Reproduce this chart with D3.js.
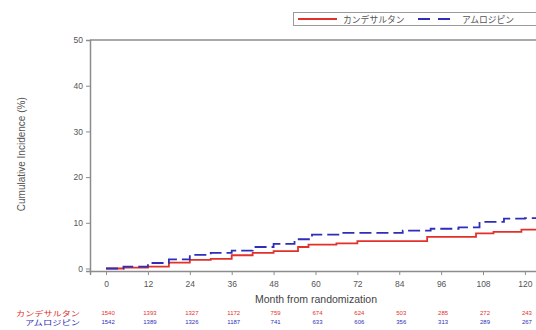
<!DOCTYPE html>
<html>
<head>
<meta charset="utf-8">
<script src="https://cdn.jsdelivr.net/npm/d3@7"></script>
<style>
  html, body { margin: 0; padding: 0; background: #fff; }
  svg { display: block; }
  text { font-family: "Liberation Sans", Arial, "Noto Sans CJK JP", sans-serif; }
  .jp { font-family: "Noto Sans CJK JP", sans-serif; }
</style>
</head>
<body>
<svg id="chart" width="536" height="330"></svg>
<script>
// Series names
const seriesNames = ["カンデサルタン", "アムロジピン"];

// Kaplan-Meier style step curves: event times (months) and cumulative incidence (%)
const candesartanMonths = [0, 5, 12, 18, 24, 30, 36, 42, 48, 55, 58, 66, 72, 92, 106, 111, 119, 124];
const candesartanValues = [0, 0.2, 0.4, 1.3, 1.9, 2.1, 2.9, 3.4, 3.8, 4.7, 5.2, 5.5, 6.0, 6.9, 7.7, 8.0, 8.5, 8.5];
const amlodipineMonths  = [0, 5, 12, 18, 24, 30, 36, 42, 48, 54, 59, 67, 85, 93, 101, 107, 114, 120, 124];
const amlodipineValues  = [0, 0.4, 1.2, 2.0, 3.0, 3.4, 3.9, 4.7, 5.4, 6.4, 7.4, 7.8, 8.3, 8.7, 9.0, 10.2, 10.9, 11.0, 11.0];

// Axis ticks
const xTicks = [0, 12, 24, 36, 48, 60, 72, 84, 96, 108, 120];
const yTicks = [0, 10, 20, 30, 40, 50];

// Numbers at risk at each x tick
const riskCandesartan = [1540, 1393, 1327, 1172, 759, 674, 624, 503, 285, 272, 243];
const riskAmlodipine  = [1542, 1389, 1326, 1187, 741, 633, 606, 356, 313, 289, 267];

const red = "#e2312b";
const blue = "#2e2eb8";
const axisGray = "#8c8c8c";
const textGray = "#555";

const svg = d3.select("#chart");

const x = d3.scaleLinear().domain([-4.6, 124.9]).range([90, 542]);
const y = d3.scaleLinear().domain([-0.55, 50]).range([271, 40]);

// Plot frame (top and left edges visible)
svg.append("line")
  .attr("x1", x.range()[0]).attr("x2", x.range()[1])
  .attr("y1", y(50)).attr("y2", y(50))
  .attr("stroke", axisGray).attr("stroke-width", 1.5);

// Y axis
const yAxis = svg.append("g")
  .attr("transform", `translate(${x.range()[0]},0)`)
  .call(d3.axisLeft(y).tickValues(yTicks).tickSize(4).tickPadding(3));
yAxis.select(".domain").attr("stroke", axisGray).attr("stroke-width", 1.5);
yAxis.selectAll(".tick line").attr("stroke", axisGray);
yAxis.selectAll(".tick text").attr("fill", textGray).attr("font-size", 8.5);

// X axis
const xAxis = svg.append("g")
  .attr("transform", `translate(0,${y.range()[0]})`)
  .call(d3.axisBottom(x).tickValues(xTicks).tickSize(4).tickPadding(6));
xAxis.select(".domain").attr("stroke", axisGray).attr("stroke-width", 1.5);
xAxis.selectAll(".tick line").attr("stroke", axisGray);
xAxis.selectAll(".tick text").attr("fill", textGray).attr("font-size", 8.5);

// Axis titles
svg.append("text")
  .attr("transform", `translate(25,${(y(50) + y(0)) / 2}) rotate(-90)`)
  .attr("text-anchor", "middle")
  .attr("fill", textGray).attr("font-size", 10)
  .text("Cumulative Incidence (%)");

svg.append("text")
  .attr("x", 316).attr("y", 303)
  .attr("text-anchor", "middle")
  .attr("fill", "#444").attr("font-size", 10.5)
  .text("Month from randomization");

// Step curves
const line = d3.line()
  .x(d => x(d[0]))
  .y(d => y(d[1]))
  .curve(d3.curveStepAfter);

const series = [
  { months: candesartanMonths, values: candesartanValues, color: red, dash: null },
  { months: amlodipineMonths, values: amlodipineValues, color: blue, dash: "12,5" }
];

series.forEach(s => {
  const pts = s.months.map((m, i) => [m, s.values[i]]);
  svg.append("path")
    .datum(pts)
    .attr("d", line)
    .attr("fill", "none")
    .attr("stroke", s.color)
    .attr("stroke-width", 1.8)
    .attr("stroke-dasharray", s.dash);
});

// Legend
const legend = svg.append("g");
legend.append("rect")
  .attr("x", 293.5).attr("y", 12.5).attr("width", 260).attr("height", 13)
  .attr("fill", "#fff").attr("stroke", "#9a9a9a").attr("stroke-width", 1);
legend.append("line")
  .attr("x1", 298).attr("x2", 337).attr("y1", 19).attr("y2", 19)
  .attr("stroke", red).attr("stroke-width", 1.8);
legend.append("text").attr("class", "jp")
  .attr("x", 343).attr("y", 22.5).attr("font-size", 8.8).attr("fill", textGray)
  .text(seriesNames[0]);
legend.append("line")
  .attr("x1", 418).attr("x2", 457).attr("y1", 19).attr("y2", 19)
  .attr("stroke", blue).attr("stroke-width", 1.8).attr("stroke-dasharray", "12,8");
legend.append("text").attr("class", "jp")
  .attr("x", 462).attr("y", 22.5).attr("font-size", 8.8).attr("fill", textGray)
  .text(seriesNames[1]);

// Numbers at risk table
const riskRows = [
  { name: seriesNames[0], counts: riskCandesartan, color: red, yPos: 316, width: 64 },
  { name: seriesNames[1], counts: riskAmlodipine, color: blue, yPos: 324.5, width: 55 }
];
riskRows.forEach(r => {
  svg.append("text").attr("class", "jp")
    .attr("x", 80 - r.width).attr("y", r.yPos)
    .attr("font-size", 7.2).attr("fill", r.color)
    .attr("textLength", r.width).attr("lengthAdjust", "spacingAndGlyphs")
    .text(r.name);
  svg.append("g").selectAll("text")
    .data(r.counts)
    .join("text")
    .attr("x", (d, i) => x(xTicks[i]) + 2)
    .attr("y", r.yPos - 1)
    .attr("text-anchor", "middle")
    .attr("font-size", 6)
    .attr("fill", r.color)
    .text(d => d);
});
</script>
</body>
</html>
